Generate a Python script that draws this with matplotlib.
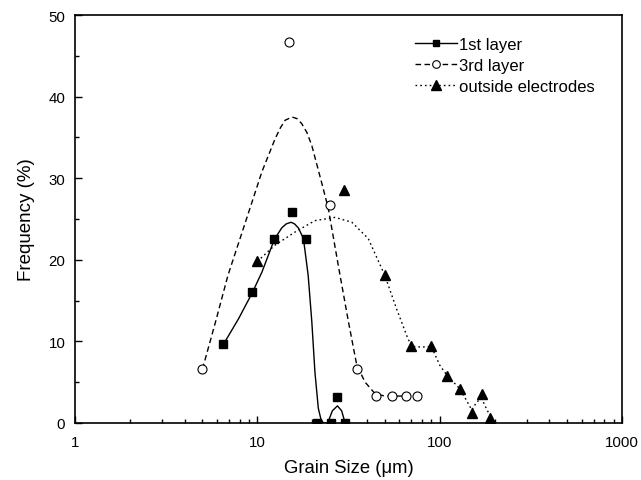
import matplotlib

matplotlib.use("Agg")
import matplotlib.pyplot as plt
from matplotlib.lines import Line2D
from matplotlib.ticker import LogLocator, MultipleLocator, FixedLocator


# Measured points (grain size in um, frequency in %)
first_x = [6.5, 9.4, 12.4, 15.5, 18.4, 21.2, 25.5, 27.5, 30.4]
first_y = [9.7, 16.0, 22.5, 25.8, 22.5, 0.0, 0.0, 3.2, 0.0]

third_x = [5.0, 15.0, 25.0, 35.0, 45.0, 55.0, 65.0, 75.0]
third_y = [6.6, 46.7, 26.7, 6.6, 3.3, 3.3, 3.3, 3.3]

outside_x = [10, 30, 50, 70, 90, 110, 130, 150, 170, 190]
outside_y = [19.8, 28.5, 18.1, 9.4, 9.4, 5.8, 4.2, 1.2, 3.5, 0.6]

# Smoothed curves
first_fit_x = [6.5, 7.9, 9.4, 10.6, 12.4, 13.6, 14.4, 15.3, 16.0, 16.8, 17.9,
               19.0, 19.9, 20.7, 21.6, 22.3, 23.0, 24.3, 25.8, 27.5, 29.0, 30.3]
first_fit_y = [9.6, 12.8, 16.0, 18.5, 22.5, 23.9, 24.4, 24.6, 24.4, 23.9, 22.6,
               18.1, 12.4, 6.2, 1.8, 0.5, 0.0, 0.0, 1.5, 2.1, 1.5, 0.0]

third_fit_x = [5.0, 5.9, 6.9, 8.6, 10.6, 12.5, 13.4, 14.2, 15.5, 16.5, 17.5,
               18.7, 19.9, 22.5, 24.5, 27.8, 31.6, 35.1, 39.0, 44.2, 50.0,
               55.0, 65.0, 75.0]
third_fit_y = [6.6, 12.4, 18.1, 24.6, 30.8, 34.8, 36.2, 37.1, 37.5, 37.3, 36.7,
               35.6, 34.0, 29.5, 26.3, 19.3, 12.4, 7.1, 5.0, 3.6, 3.3, 3.3,
               3.3, 3.3]

outside_fit_x = [10, 12.5, 16.1, 20.7, 26.7, 33.0, 40.6, 50, 58, 66, 70, 80,
                 90, 100, 110, 129, 140, 150, 160, 170, 180, 193]
outside_fit_y = [19.8, 21.8, 23.4, 24.8, 25.2, 24.6, 22.6, 18.1, 14.0, 10.7,
                 9.4, 9.3, 9.4, 7.1, 5.8, 4.2, 2.8, 1.6, 2.6, 3.0, 1.8, 0.5]

labels = ["1st layer", "3rd layer", "outside electrodes"]
x_ticks = [1, 10, 100, 1000]
x_tick_labels = ["1", "10", "100", "1000"]
y_ticks = [0, 10, 20, 30, 40, 50]


def main():
    plt.rcParams["font.family"] = ["Liberation Sans", "DejaVu Sans"]

    fig = plt.figure(figsize=(6.41, 4.81), dpi=100)
    ax = fig.add_axes([75 / 641, 57 / 481, 547 / 641, 408 / 481])

    dash = (4, 2.5)
    dot = (1.2, 2.2)

    # fitted curves
    ax.plot(first_fit_x, first_fit_y, color="black", lw=1.0, ls="-")
    ax.plot(third_fit_x, third_fit_y, color="black", lw=1.0, dashes=dash)
    ax.plot(outside_fit_x, outside_fit_y, color="black", lw=1.0, dashes=dot)

    # measured points
    ax.plot(first_x, first_y, ls="none", marker="s", ms=5.8,
            color="black", zorder=3)
    ax.plot(third_x, third_y, ls="none", marker="o", ms=6.5, mfc="white",
            mec="black", mew=0.8, zorder=3)
    ax.plot(outside_x, outside_y, ls="none", marker="^", ms=7.5,
            color="black", zorder=3)

    ax.set_xscale("log")
    ax.set_xlim(1, 1000)
    ax.set_ylim(0, 50)

    ax.xaxis.set_major_locator(FixedLocator(x_ticks))
    ax.set_xticklabels(x_tick_labels)
    ax.xaxis.set_minor_locator(LogLocator(base=10, subs=range(2, 10)))
    ax.xaxis.set_minor_formatter(plt.NullFormatter())
    ax.set_yticks(y_ticks)
    ax.yaxis.set_minor_locator(MultipleLocator(5))

    ax.tick_params(which="both", direction="in", top=False, right=False,
                   width=1.0, labelsize=10.8)
    ax.tick_params(which="major", length=5)
    ax.tick_params(which="minor", length=3)
    ax.tick_params(axis="x", which="major", pad=9)
    ax.tick_params(axis="y", which="major", pad=7)

    for spine in ax.spines.values():
        spine.set_linewidth(1.2)

    ax.set_xlabel("Grain Size (\u03bcm)", fontsize=13.3, labelpad=7)
    ax.set_ylabel("Frequency (%)", fontsize=13.5, labelpad=10)

    handles = [
        Line2D([], [], color="black", lw=1.0, ls="-", marker="s", ms=5),
        Line2D([], [], color="black", lw=1.0, dashes=dash, marker="o", ms=5.5,
               mfc="white", mew=0.8),
        Line2D([], [], color="black", lw=1.0, dashes=dot, marker="^", ms=6.5),
    ]
    ax.legend(handles, labels, loc="upper left", bbox_to_anchor=(0.622, 0.947),
              frameon=False, fontsize=12, handlelength=2.5,
              handletextpad=0.15, labelspacing=0.38, borderpad=0,
              borderaxespad=0)

    fig.savefig("out.png", dpi=100)


if __name__ == "__main__":
    main()
